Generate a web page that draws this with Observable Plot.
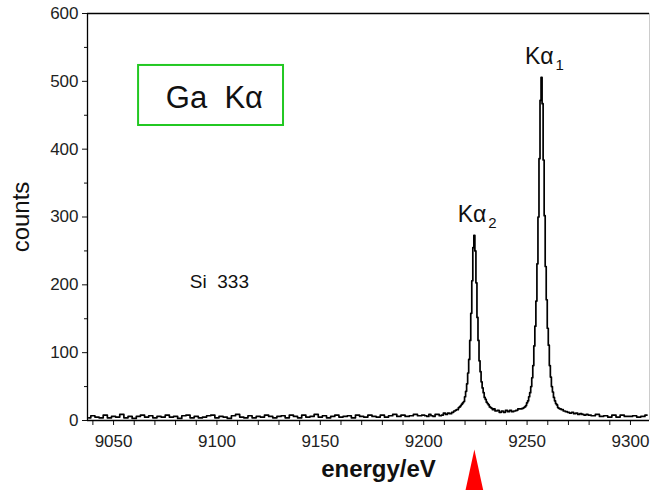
<!DOCTYPE html>
<html>
<head>
<meta charset="utf-8">
<script src="https://cdn.jsdelivr.net/npm/d3@7"></script>
<script src="https://cdn.jsdelivr.net/npm/@observablehq/plot@0.6"></script>
<style>
  html, body { margin: 0; padding: 0; background: #fff; }
</style>
</head>
<body>
<div id="chart"></div>
<script>
// Photon energy (eV) of each channel
const energy = [
  9038,9040,9042,9044,9046,9048,9050,9052,9054,9056,
  9058,9060,9062,9064,9066,9068,9070,9072,9074,9076,
  9078,9080,9082,9084,9086,9088,9090,9092,9094,9096,
  9098,9100,9102,9104,9106,9108,9110,9112,9114,9116,
  9118,9120,9122,9124,9126,9128,9130,9132,9134,9136,
  9138,9140,9142,9144,9146,9148,9150,9152,9154,9156,
  9158,9160,9162,9164,9166,9168,9170,9172,9174,9176,
  9178,9180,9182,9184,9186,9188,9190,9192,9194,9196,
  9198,9200,
  9201,9202,9203,9204,9205,9206,9207,9208,9209,9210,9211,9212,9213,9214,9215,
  9215.5,9216,9216.5,9217,9217.5,9218,9218.5,9219,9219.5,9220,
  9220.5,9221,9221.5,9222,9222.5,9223,9223.5,9224,9224.5,9225,
  9225.5,9226,9226.5,9227,9227.5,9228,9228.5,9229,9229.5,9230,
  9230.5,9231,9231.5,9232,9232.5,9233,9233.5,9234,
  9235,9236,9237,9238,9239,9240,9241,9242,9243,9244,9245,9246,9247,9248,
  9248.5,9249,9249.5,9250,9250.5,9251,9251.5,9252,9252.5,9253,
  9253.5,9254,9254.5,9255,9255.5,9256,9256.5,9257,9257.5,9258,
  9258.5,9259,9259.5,9260,9260.5,9261,9261.5,9262,9262.5,9263,
  9263.5,9264,9264.5,9265,9265.5,9266,
  9267,9268,9269,9270,9271,9272,9273,9274,9275,9276,9277,9278,9279,9280,
  9282,9284,9286,9288,9290,9292,9294,9296,9298,9300,9302,9304,9306,9308
];
// Counts per channel
const counts = [
  4,7,5,4,8,4,6,5,9,4,
  6,3,6,8,5,7,4,6,5,8,
  5,6,3,7,8,4,6,4,5,7,
  8,4,6,5,3,7,9,5,4,7,
  4,6,5,8,6,4,6,7,4,8,
  6,4,8,5,6,9,5,7,4,6,
  8,5,6,7,4,8,6,5,8,6,
  5,8,5,7,9,6,8,6,7,9,
  7,8,
  7,6,9,7,6,9,9,7,8,11,9,11,10,12,14,
  15,16,16,19,20,22,24,26,28,35,
  43,54,70,90,118,158,206,255,273,250,
  203,152,118,88,72,57,48,41,34,31,
  27,25,23,20,19,18,16,17,
  14,15,12,14,12,15,13,15,13,14,15,17,17,18,
  19,20,22,26,29,35,41,50,63,81,
  110,139,176,231,300,386,472,506,467,384,
  302,227,178,136,111,81,64,50,42,34,
  29,25,23,19,18,17,
  16,14,13,12,11,12,10,11,9,10,9,8,9,8,
  7,9,6,7,5,8,5,8,6,6,7,5,6,8
];

const xTicksMajor = [9050, 9100, 9150, 9200, 9250, 9300];
const xTicksMinor = [9040,9050,9060,9070,9080,9090,9100,9110,9120,9130,9140,9150,9160,9170,9180,9190,9200,9210,9220,9230,9240,9250,9260,9270,9280,9290,9300];
const yTicksMajor = [0, 100, 200, 300, 400, 500, 600];
const yTicksMinor = [50, 150, 250, 350, 450, 550];

const peakNames = ["Kα", "Kα"];
const peakSubs = ["1", "2"];
const peakEnergy = [9257, 9224.5];
const peakLabelY = [526, 292];

const markerEnergy = [9224.5];

const xDomain = [9037.4, 9309.2];
const yDomain = [0, 600];

const spectrum = energy.map((e, i) => ({energy: e, counts: counts[i]}));
const peaks = peakNames.map((n, i) => ({name: n, sub: peakSubs[i], energy: peakEnergy[i], y: peakLabelY[i]}));

const narrowTriangle = {
  draw(context) {
    context.moveTo(0, -20);
    context.lineTo(10, 26);
    context.lineTo(-10, 26);
    context.closePath();
  }
};

const chart = Plot.plot({
  width: 651,
  height: 490,
  marginLeft: 87,
  marginRight: 2,
  marginTop: 13,
  marginBottom: 70,
  style: {fontFamily: "'Liberation Sans', Arial, sans-serif", fontSize: "16px", background: "#fff", color: "#222"},
  x: {domain: xDomain},
  y: {domain: yDomain},
  marks: [
    // frame
    Plot.ruleY([600], {stroke: "#000", strokeWidth: 1.5}),
    Plot.ruleX([xDomain[1]], {stroke: "#ccc"}),
    // axes
    Plot.axisX({ticks: xTicksMinor, tickSize: 5, tickFormat: () => "", label: null, stroke: "#111"}),
    Plot.axisX({ticks: xTicksMajor, tickSize: 0, tickPadding: 14, tickFormat: d => String(d), label: null, fontSize: 17, fill: "#222"}),
    Plot.axisY({ticks: yTicksMajor, tickSize: 5, tickPadding: 4, tickFormat: d => String(d), label: null, fontSize: 17, fill: "#222", stroke: "#111"}),
    Plot.axisY({ticks: yTicksMinor, tickSize: 3, tickFormat: () => "", label: null, stroke: "#111"}),
    Plot.ruleX([xDomain[0]], {stroke: "#000", strokeWidth: 1.3}),
    Plot.ruleY([0], {stroke: "#000", strokeWidth: 1.3}),
    // spectrum
    Plot.line(spectrum, {x: "energy", y: "counts", curve: "step", stroke: "#000", strokeWidth: 1.7}),
    // peak labels
    Plot.text(peaks, {x: "energy", y: "y", text: "name", textAnchor: "end", lineAnchor: "bottom", dx: 12, fontSize: 23, fill: "#111"}),
    Plot.text(peaks, {x: "energy", y: "y", text: "sub", textAnchor: "start", lineAnchor: "bottom", dx: 14, dy: 6, fontSize: 15, fill: "#111"}),
    // Ga Kα box
    Plot.rect([{x1: 9062.1, x2: 9132.2, y1: 434.9, y2: 523.4}], {x1: "x1", x2: "x2", y1: "y1", y2: "y2", fill: "none", stroke: "#22c822", strokeWidth: 2}),
    Plot.text(["Ga  Kα"], {x: 9098.8, y: 460, lineAnchor: "bottom", fontSize: 31, fill: "#111"}),
    Plot.text(["Si  333"], {x: 9101.2, y: 194.6, lineAnchor: "bottom", fontSize: 19, fill: "#111"}),
    // axis titles
    Plot.text(["counts"], {frameAnchor: "left", textAnchor: "middle", rotate: -90, dx: -66, fontSize: 24, fill: "#111"}),
    Plot.text(["energy/eV"], {frameAnchor: "bottom", textAnchor: "middle", dx: 10, dy: 56, lineAnchor: "bottom", fontSize: 24, fontWeight: "bold", fill: "#111"}),
    // red marker
    Plot.dot(markerEnergy, {x: d => d, frameAnchor: "bottom", dy: 49, symbol: narrowTriangle, fill: "#ff0000", stroke: "none"})
  ]
});

document.getElementById("chart").appendChild(chart);
</script>
</body>
</html>
